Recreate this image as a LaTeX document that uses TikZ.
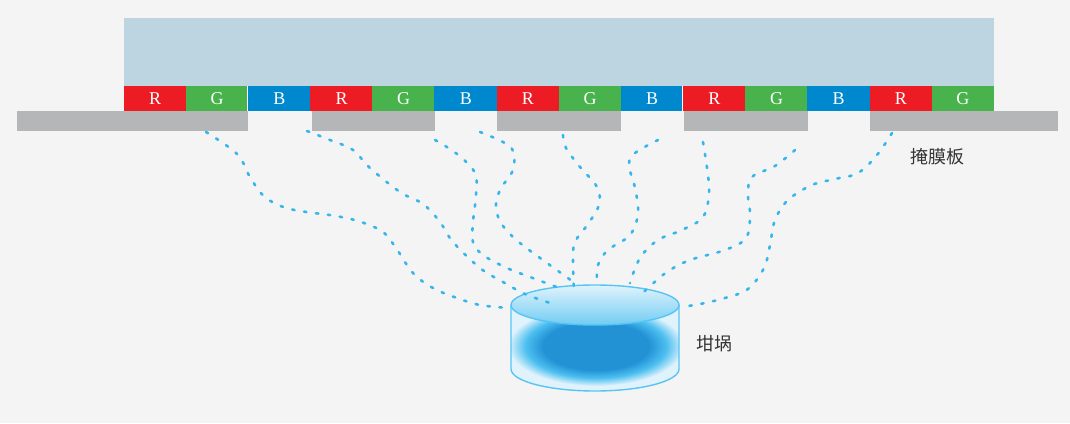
\documentclass[tikz,border=0pt]{standalone}
\usepackage{fontspec}
\setmainfont{Liberation Serif}
\newfontfamily\cjk{Noto Sans CJK SC}
\definecolor{bgc}{HTML}{F4F4F4}
\definecolor{glass}{HTML}{BDD5E1}
\definecolor{cr}{HTML}{ED1C24}
\definecolor{cg}{HTML}{48B24C}
\definecolor{cb}{HTML}{0088CE}
\definecolor{maskc}{HTML}{B5B6B7}
\definecolor{flowc}{HTML}{35B6EC}
\definecolor{rimc}{HTML}{56C5F4}
\definecolor{bodyc}{HTML}{E0F3FC}
\definecolor{glowA}{HTML}{2292D5}
\definecolor{glowB}{HTML}{4CBFF0}
\definecolor{labc}{HTML}{333333}
\pgfdeclareradialshading{cruglow}{\pgfpointorigin}{color(0bp)=(glowA); color(15bp)=(glowA); color(20bp)=(glowB); color(25bp)=(bodyc); color(50bp)=(bodyc)}
\begin{document}
\begin{tikzpicture}[x=1pt,y=-1pt,
  cell/.style={minimum width=62.6pt, minimum height=25pt, inner sep=0pt, text=white, font=\fontsize{18}{18}\selectfont},
  flow/.style={draw=flowc, line width=2.6pt, line cap=round, dash pattern=on 2.4pt off 9.6pt},
  lab/.style={text=labc, font=\cjk\fontsize{18}{18}\selectfont, inner sep=0pt},
  rim/.style={draw=rimc, line width=1.4pt},
  gap/.style={draw=white, line width=1pt}]
\useasboundingbox (0,0) rectangle (1070,423);
\fill[bgc] (0,0) rectangle (1070,423);
% glass substrate
\fill[glass] (124,18) rectangle (994,86);
% pixel cells
\foreach \i/\t/\c in {0/R/cr,1/G/cg,2/B/cb,3/R/cr,4/G/cg,5/B/cb,6/R/cr,7/G/cg,8/B/cb,9/R/cr,10/G/cg,11/B/cb,12/R/cr,13/G/cg}
  \node[cell, fill=\c] (c\i) at ({124+62.143*(\i+0.5)},98.5) {\t};
\draw[gap] ([xshift=-0.3pt]c2.north west) -- ([xshift=-0.3pt]c2.south west);
\draw[gap] ([xshift=-0.3pt]c9.north west) -- ([xshift=-0.3pt]c9.south west);
% mask
\fill[maskc] (17,111) rectangle (248,131);
\fill[maskc] (312,111) rectangle (435,131);
\fill[maskc] (497,111) rectangle (621,131);
\fill[maskc] (684,111) rectangle (808,131);
\fill[maskc] (870,111) rectangle (1058,131);
% crucible
\fill[bodyc] (511,305) arc[start angle=180,end angle=360,x radius=84,y radius=20] -- (679,369) arc[start angle=0,end angle=180,x radius=84,y radius=22] -- cycle;
\begin{scope}
  \clip (511,305) arc[start angle=180,end angle=360,x radius=84,y radius=20] -- (679,369) arc[start angle=0,end angle=180,x radius=84,y radius=22] -- cycle;
  \shade[shading=cruglow] (596,346) ellipse[x radius=88, y radius=40];
  \shade[top color=bodyc, bottom color=glowB!75!bodyc] (595,305) ellipse[x radius=84, y radius=20];
\end{scope}
\draw[rim] (511,305) arc[start angle=180,end angle=360,x radius=84,y radius=20] -- (679,369) arc[start angle=0,end angle=180,x radius=84,y radius=22] -- cycle;
\draw[rim] (679,305) arc[start angle=0,end angle=180,x radius=84,y radius=20];
% labels
\node[lab] (maskl) at (937,157) {掩膜板};
\node[lab] (crucl) at (714,344) {坩埚};
% flow start / end points
\coordinate (s1) at (206,132); \coordinate (e1) at (509,308);
\coordinate (s2) at (307,131); \coordinate (e2) at (550,303);
\coordinate (s3) at (435,140); \coordinate (e3) at (562,289);
\coordinate (s4) at (480,132); \coordinate (e4) at (572,281);
\coordinate (s5) at (563,135); \coordinate (e5) at (574,293);
\coordinate (s6) at (658,140); \coordinate (e6) at (597,283);
\coordinate (s7) at (703,142); \coordinate (e7) at (630,283);
\coordinate (s8) at (795,150); \coordinate (e8) at (638,298);
\coordinate (s9) at (892,133); \coordinate (e9) at (681,307);
\draw[flow] plot[smooth, tension=0.6] coordinates {(s1) (237,154) (250,177) (265,197) (290,209) (336,216) (361,222) (383,232) (396,248) (413,273) (433,288) (457,298) (480,305) (e1)};
\draw[flow] plot[smooth, tension=0.6] coordinates {(s2) (330,140) (353,150) (370,168) (400,192) (423,204) (440,222) (453,242) (480,268) (503,282) (525,294) (e2)};
\draw[flow] plot[smooth, tension=0.6] coordinates {(s3) (457,154) (475,173) (476,195) (473,222) (473,242) (483,255) (507,268) (530,277) (e3)};
\draw[flow] plot[smooth, tension=0.6] coordinates {(s4) (503,142) (513,151) (513,170) (500,190) (496,208) (503,226) (520,243) (547,263) (e4)};
\draw[flow] plot[smooth, tension=0.6] coordinates {(s5) (566,148) (580,167) (597,187) (599,205) (588,224) (575,242) (573,260) (e5)};
\draw[flow] plot[smooth, tension=0.6] coordinates {(s6) (635,153) (629,165) (635,188) (638,213) (630,235) (608,250) (598,265) (e6)};
\draw[flow] plot[smooth, tension=0.6] coordinates {(s7) (707,168) (709,193) (703,217) (682,230) (658,240) (640,258) (e7)};
\draw[flow] plot[smooth, tension=0.6] coordinates {(s8) (775,166) (752,177) (748,195) (750,215) (746,238) (725,250) (690,260) (667,272) (648,288) (e8)};
\draw[flow] plot[smooth, tension=0.6] coordinates {(s9) (877,155) (858,173) (835,179) (812,185) (788,200) (775,220) (770,245) (764,268) (748,289) (725,298) (700,304) (e9)};
\end{tikzpicture}
\end{document}
